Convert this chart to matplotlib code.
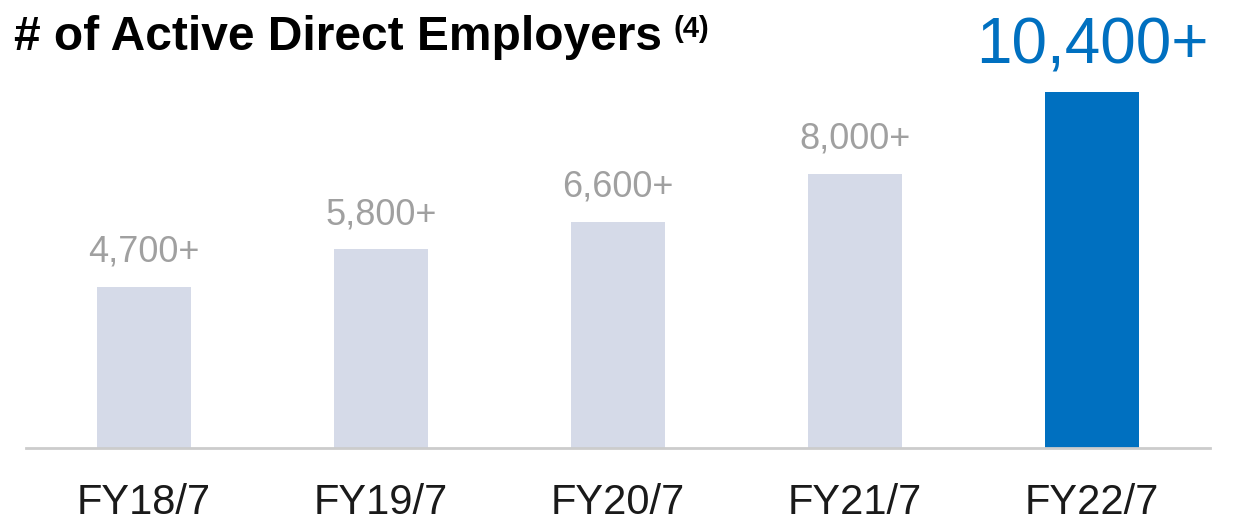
import matplotlib.pyplot as plt

years = ['FY18/7', 'FY19/7', 'FY20/7', 'FY21/7', 'FY22/7']
employers = [4700, 5800, 6600, 8000, 10400]
labels = ['4,700+', '5,800+', '6,600+', '8,000+', '10,400+']

plt.rcParams['font.family'] = ['Liberation Sans', 'DejaVu Sans']

fig = plt.figure(figsize=(12.33, 5.24), dpi=100)
ax = fig.add_axes([0.0207, 0.145, 0.961, 0.784])

colors = ['#d5dae8'] * 4 + ['#0070c0']
x = range(len(years))
bars = ax.bar(x, employers, width=0.397, color=colors)

for i, (b, lab) in enumerate(zip(bars, labels)):
    if i == len(years) - 1:
        ax.annotate(lab, (b.get_x() + b.get_width() / 2, b.get_height()),
                    xytext=(0, 11), textcoords='offset points',
                    ha='center', va='bottom', fontsize=46, color='#0070c0')
    else:
        ax.annotate(lab, (b.get_x() + b.get_width() / 2, b.get_height()),
                    xytext=(0, 12.5), textcoords='offset points',
                    ha='center', va='bottom', fontsize=26, color='#a0a0a0')

ax.set_xlim(-0.5, 4.5)
ax.set_ylim(0, 12000)
ax.set_xticks(list(x))
ax.set_xticklabels(years, fontsize=30, color='#1a1a1a')
ax.tick_params(axis='x', length=0, pad=25)
ax.set_yticks([])
for s in ['top', 'left', 'right']:
    ax.spines[s].set_visible(False)
ax.spines['bottom'].set_color('#cccccc')
ax.spines['bottom'].set_linewidth(2)

fig.text(0.011, 0.905, '# of Active Direct Employers', fontsize=34.5,
         fontweight='bold', va='baseline')
fig.text(0.546, 0.93, '(4)', fontsize=21, fontweight='bold', va='baseline')

fig.savefig('out.png', dpi=100)
